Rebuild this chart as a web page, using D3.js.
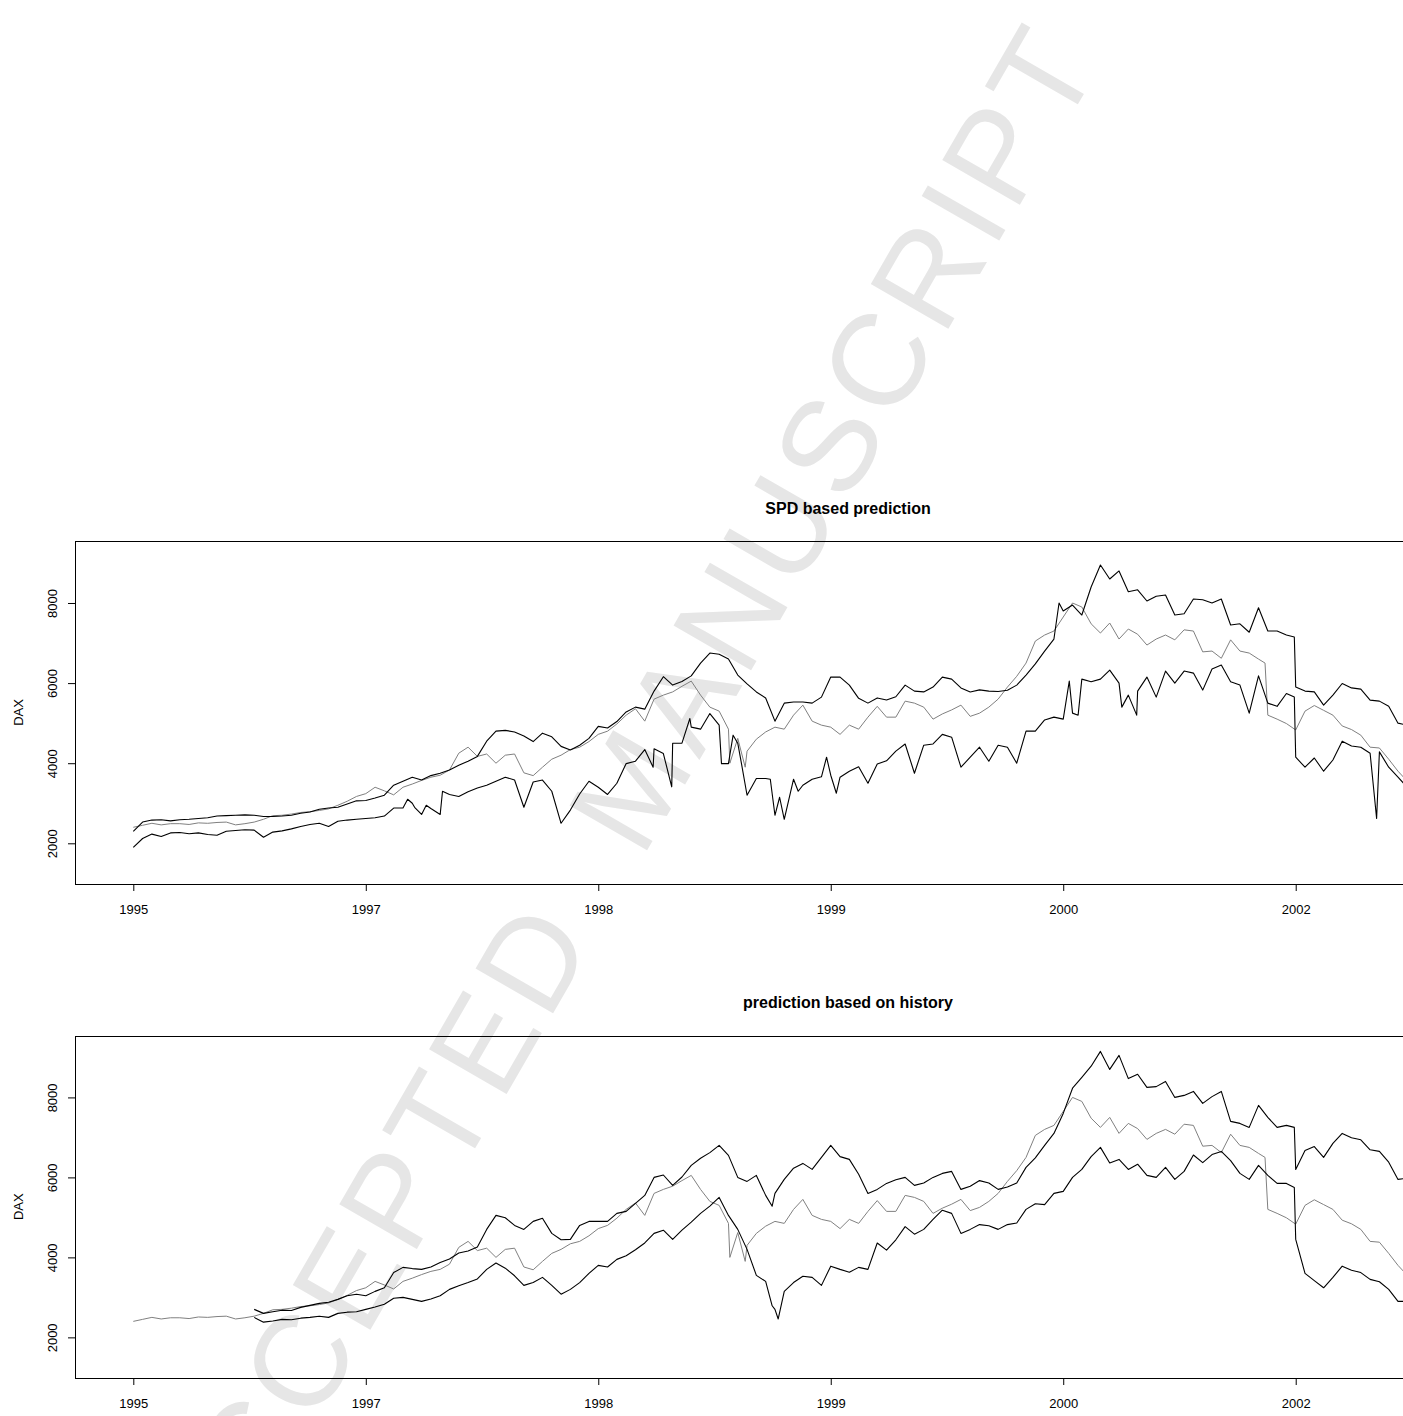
<!DOCTYPE html>
<html><head><meta charset="utf-8">
<script src="https://cdn.jsdelivr.net/npm/d3@7"></script>
<style>html,body{margin:0;padding:0;background:#fff;} svg{display:block;}</style>
</head><body>
<svg id="chart" width="1403" height="1416"></svg>
<script>
// trading-day index step between stored observations
const STEP = 20;
const xTickIdx = [0, 500, 1000, 1500, 2000, 2500];
const xTickLabels = ["1995", "1997", "1998", "1999", "2000", "2002"];
const yTicks = [2000, 4000, 6000, 8000];
const titles = ["SPD based prediction", "prediction based on history"];
const yLabel = "DAX";
const watermark = "ACCEPTED MANUSCRIPT";
const spdStart = 0;
const histStart = 260;

// observed DAX (gray), from index 0
const dax = [
2400,2450,2500,2460,2490,2490,2470,2510,2500,2520,
2530,2460,2490,2530,2600,2690,2700,2730,2770,2790,
2820,2860,2950,3050,3170,3240,3400,3310,3210,3400,
3480,3570,3650,3700,3830,4250,4400,4170,4230,4000,
4200,4230,3760,3690,3900,4100,4200,4340,4400,4540,
4720,4800,4980,5200,5360,5050,5600,5700,5780,5920,
6050,5700,5400,5300,4850,4620,4300,4600,4780,4900,
4850,5200,5450,5050,4950,4900,4720,4950,4850,5150,
5420,5150,5150,5550,5500,5400,5100,5230,5330,5450,
5170,5250,5400,5600,5900,6170,6500,7050,7200,7300,
7650,8000,7900,7480,7250,7500,7100,7350,7220,6950,
7100,7200,7080,7330,7300,6780,6800,6620,7080,6800,
6750,6600,5200,5100,4990,4830,5300,5440,5320,5200,
4930,4840,4700,4400,4380,4100,3800,3550];
// single off-grid days [index, value]
const daxExtra = [[1283,4000],[1316,3900],[2434,6500]];

// SPD based prediction bands, from index 0
const spdUpper = [
2300,2530,2580,2590,2560,2590,2600,2620,2640,2680,
2690,2700,2710,2700,2670,2670,2680,2700,2750,2780,
2850,2880,2900,2980,3060,3070,3130,3200,3450,3550,
3650,3580,3690,3750,3830,3950,4050,4170,4550,4800,
4820,4780,4680,4540,4750,4660,4420,4330,4450,4620,
4920,4880,5040,5280,5400,5350,5800,6160,5950,6040,
6180,6500,6750,6720,6600,6200,5980,5780,5630,5050,
5500,5530,5530,5500,5650,6150,6150,5950,5620,5500,
5630,5580,5660,5950,5800,5780,5900,6150,6100,5880,
5780,5830,5800,5790,5820,5950,6200,6480,6800,7100,
7800,7950,7700,8400,8950,8600,8800,8280,8330,8050,
8170,8200,7700,7730,8100,8080,8000,8100,7450,7480,
7270,7880,7300,7300,7200,5900,5800,5780,5450,5700,
5990,5880,5850,5575,5550,5420,5000,4950];
const spdUpperExtra = [[1991,8000],[2497,7150]];

const spdLower = [
1900,2120,2230,2170,2260,2270,2240,2260,2220,2200,
2300,2320,2340,2330,2150,2280,2310,2360,2420,2470,
2500,2420,2550,2580,2600,2620,2640,2680,2880,2880,
3000,2720,2870,2720,3220,3170,3290,3380,3450,3550,
3650,3580,2900,3530,3580,3300,2500,2830,3230,3550,
3400,3220,3500,3990,4050,4340,4360,4240,4500,4500,
4900,4850,5240,4950,3990,4500,3200,3620,3620,2700,
2600,3600,3450,3600,3660,3700,3650,3800,3910,3500,
3980,4060,4300,4480,3750,4450,4480,4720,4650,3900,
4150,4400,4050,4450,4400,4000,4800,4800,5080,5150,
5100,5250,6100,6033,6100,6325,6000,5700,5800,6150,
5650,6300,6000,6300,6250,5825,6350,6450,6033,5950,
5250,6180,5500,5420,5740,4150,3900,4130,3800,4080,
4550,4430,4400,4250,4283,3900,3650,3400];
const spdLowerExtra = [[590,3100],[605,2900],[630,2950],[665,3300],[1118,3900],[1158,3410],
  [1197,5117],[1265,3990],[1290,4700],[1308,3990],[1370,3600],[1390,3150],[1430,3300],
  [1491,4150],[1512,3250],[2013,6050],[2032,5200],[2126,5400],[2158,5200],[2497,5650],[2674,2620]];

// history based prediction bands, from index 260
const histUpper = [
2700,2600,2640,2680,2670,2750,2800,2850,2880,2950,
3040,3080,3040,3150,3240,3620,3750,3720,3700,3760,
3870,3960,4110,4160,4260,4700,5050,4990,4800,4700,
4900,4980,4600,4440,4450,4800,4900,4900,4900,5100,
5150,5350,5550,6000,6060,5800,6010,6300,6480,6620,
6800,6550,6000,5900,6050,5550,5600,5950,6230,6350,
6200,6500,6800,6520,6450,6080,5600,5700,5850,5940,
6000,5800,5860,6000,6100,6150,5700,5780,5920,5860,
5700,5760,5860,6250,6490,6800,7100,7600,8230,8500,
8780,9150,8700,9050,8470,8580,8250,8270,8400,8000,
8050,8150,7850,8020,8150,7400,7350,7250,7800,7500,
7250,7300,6200,6670,6770,6500,6850,7100,6990,6940,
6690,6650,6380,5950,5980];
const histUpperExtra = [[1374,5280],[2497,7250]];

const histLower = [
2500,2380,2410,2450,2440,2480,2500,2530,2500,2600,
2630,2640,2700,2760,2830,2980,3000,2950,2900,2960,
3040,3200,3290,3370,3460,3700,3860,3730,3540,3300,
3370,3500,3300,3080,3200,3370,3600,3800,3760,3950,
4040,4190,4360,4600,4680,4450,4680,4880,5100,5280,
5500,5050,4700,4200,3550,3400,2700,3150,3370,3530,
3500,3300,3780,3700,3630,3750,3700,4360,4180,4440,
4770,4580,4700,4950,5180,5100,4600,4700,4820,4790,
4700,4820,4860,5200,5340,5320,5600,5650,6000,6200,
6520,6750,6360,6450,6200,6330,6050,6000,6250,5950,
6150,6560,6370,6570,6650,6420,6100,5950,6300,6050,
5850,5850,4450,3600,3420,3240,3500,3780,3680,3620,
3450,3390,3200,2900,2900];
const histLowerExtra = [[1374,2790],[1387,2460],[2497,5750]];

const FONT = "'Liberation Sans', Arial, Helvetica, sans-serif";
const svg = d3.select("#chart");
svg.append("rect").attr("width", 1403).attr("height", 1416).attr("fill", "#fff");

// watermark
svg.append("text")
  .attr("transform", "translate(1104,59) rotate(-60)")
  .attr("text-anchor", "end")
  .attr("font-family", FONT)
  .attr("font-size", 130)
  .attr("letter-spacing", 6.5)
  .attr("word-spacing", 45)
  .attr("fill", "#e6e6e6")
  .text(watermark);

const PL = 75, PR = 1621;
const x = d3.scaleLinear().domain([-125.4, 3199.6]).range([PL, PR]);

function points(data, start, extra) {
  return data.map((v, i) => [start + i * STEP, v])
    .concat(extra || [])
    .sort((a, b) => a[0] - b[0]);
}

const panels = [
  { top: 541, bottom: 884, title: titles[0],
    series: [
      { pts: points(dax, 0, daxExtra), color: "#808080", w: 1 },
      { pts: points(spdUpper, spdStart, spdUpperExtra), color: "#000", w: 1.1 },
      { pts: points(spdLower, spdStart, spdLowerExtra), color: "#000", w: 1.1 }
    ] },
  { top: 1035.5, bottom: 1378, title: titles[1],
    series: [
      { pts: points(dax, 0, daxExtra), color: "#808080", w: 1 },
      { pts: points(histUpper, histStart, histUpperExtra), color: "#000", w: 1.1 },
      { pts: points(histLower, histStart, histLowerExtra), color: "#000", w: 1.1 }
    ] }
];

panels.forEach((p, k) => {
  const y = d3.scaleLinear().domain([984, 9548]).range([p.bottom, p.top]);
  const g = svg.append("g");
  const cid = "clip" + k;
  svg.append("clipPath").attr("id", cid).append("rect")
    .attr("x", PL).attr("y", p.top).attr("width", PR - PL).attr("height", p.bottom - p.top);
  const lg = g.append("g").attr("clip-path", `url(#${cid})`);
  const line = d3.line().x(d => x(d[0])).y(d => y(d[1]));
  p.series.forEach(s => {
    lg.append("path").attr("d", line(s.pts))
      .attr("fill", "none").attr("stroke", s.color)
      .attr("stroke-width", s.w).attr("stroke-linejoin", "round");
  });
  // box
  g.append("rect").attr("x", PL + 0.5).attr("y", Math.round(p.top) + 0.5)
    .attr("width", PR - PL).attr("height", Math.round(p.bottom) - Math.round(p.top))
    .attr("fill", "none").attr("stroke", "#000").attr("stroke-width", 1);

  // x axis
  const xa = d3.axisBottom(x).tickValues(xTickIdx)
    .tickFormat((d, i) => xTickLabels[i]).tickSize(7).tickSizeOuter(0).tickPadding(14);
  const gx = g.append("g").attr("transform", `translate(0,${Math.round(p.bottom)})`).call(xa);
  gx.select(".domain").remove();
  gx.attr("font-size", 13).attr("font-family", FONT);
  gx.selectAll("text").attr("fill", "#000");
  gx.selectAll("line").attr("stroke", "#000");

  // y axis
  const ya = d3.axisLeft(y).tickValues(yTicks).tickFormat(d3.format("d")).tickSize(7).tickSizeOuter(0);
  const gy = g.append("g").attr("transform", `translate(${PL},0)`).call(ya);
  gy.select(".domain").remove();
  gy.attr("font-size", 13).attr("font-family", FONT);
  gy.selectAll("line").attr("stroke", "#000");
  gy.selectAll("text").attr("x", null).attr("dy", null).attr("fill", "#000")
    .attr("text-anchor", "middle")
    .attr("transform", `translate(${56.5 - PL},0) rotate(-90)`);

  // y label
  g.append("text").attr("transform", `translate(23.3,${(p.top + p.bottom) / 2}) rotate(-90)`)
    .attr("text-anchor", "middle").attr("font-family", FONT).attr("font-size", 13)
    .attr("fill", "#000").text(yLabel);

  // title
  g.append("text").attr("x", (PL + PR) / 2).attr("y", p.top - 27.5)
    .attr("text-anchor", "middle").attr("font-family", FONT).attr("font-size", 16)
    .attr("font-weight", "bold").attr("fill", "#000").text(p.title);
});
</script>
</body></html>
